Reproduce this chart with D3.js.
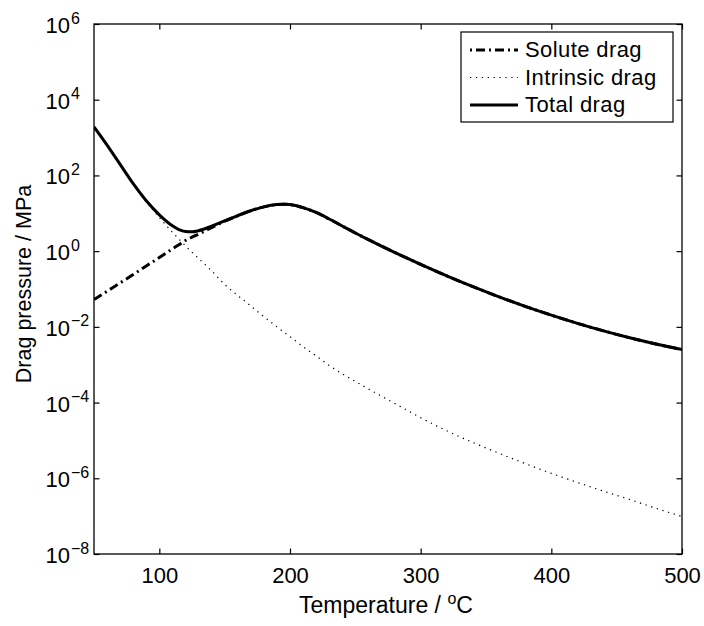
<!DOCTYPE html>
<html><head><meta charset="utf-8">
<script src="https://cdn.jsdelivr.net/npm/d3@7"></script>
<style>body{margin:0;background:#fff} text{font-family:"Liberation Sans",Arial,Helvetica,sans-serif;fill:#000}</style>
</head><body><svg id="c" width="704" height="626"></svg>
<script>
// Temperature (°C)
const temperature = [50,60,70,80,90,100,110,115,120,125,130,140,150,160,170,180,190,195,200,210,220,230,240,250,260,270,280,290,300,320,340,360,380,400,420,440,460,480,500];
// Drag pressure (MPa)
const totalDrag = [1905,631,195,60.3,21.4,9.12,4.68,3.72,3.31,3.24,3.47,4.57,6.31,8.71,11.7,14.8,17.0,17.4,17.0,14.1,10.5,7.08,4.62,3.02,2.02,1.36,0.929,0.640,0.446,0.222,0.115,0.0621,0.0348,0.0204,0.0124,0.00782,0.00514,0.00352,0.00251];
const intrinsicDrag = [1905,631,195,60.3,20.4,7.76,3.16,2.09,1.38,0.933,0.646,0.302,0.132,0.0676,0.0355,0.0186,0.0100,0.00741,0.00550,0.00302,0.00170,9.55e-4,5.75e-4,3.63e-4,2.29e-4,1.48e-4,9.55e-5,6.17e-5,3.98e-5,1.80e-5,8.81e-6,4.57e-6,2.45e-6,1.35e-6,7.76e-7,4.57e-7,2.75e-7,1.62e-7,9.77e-8];
const soluteDrag = [0.0525,0.0871,0.145,0.240,0.407,0.676,1.15,1.48,1.91,2.34,2.82,4.17,6.17,8.51,11.7,14.8,17.0,17.4,17.0,14.1,10.5,7.08,4.62,3.02,2.02,1.36,0.929,0.640,0.446,0.222,0.115,0.0621,0.0348,0.0204,0.0124,0.00782,0.00514,0.00352,0.00251];
const xTicks = [100,200,300,400,500];
const yTickExponents = [-8,-6,-4,-2,0,2,4,6];
const legendLabels = ["Solute drag","Intrinsic drag","Total drag"];

const L=94, R=682, T=24, B=554;
const svg = d3.select("#c");
const x = d3.scaleLinear().domain([50,500]).range([L,R]);
const y = d3.scaleLog().domain([1e-8,1e6]).range([B,T]);

const line = d3.line().x(d=>x(d[0])).y(d=>y(d[1])).curve(d3.curveMonotoneX);
const series = [
  {vals: soluteDrag, w:3, dash:"9,4,2,4", off:13},
  {vals: intrinsicDrag, w:1.2, dash:"1.3,4.6", off:0},
  {vals: totalDrag, w:3, dash:null, off:0}
];
const plot = svg.append("g");
plot.append("clipPath").attr("id","cp").append("rect").attr("x",L).attr("y",T).attr("width",R-L).attr("height",B-T);
series.forEach(s=>{
  plot.append("path").attr("clip-path","url(#cp)")
    .datum(temperature.map((t,i)=>[t,s.vals[i]]))
    .attr("d",line).attr("fill","none").attr("stroke","#000")
    .attr("stroke-width",s.w).attr("stroke-dasharray",s.dash)
    .attr("stroke-linejoin","round");
});

// frame
svg.append("rect").attr("x",L).attr("y",T).attr("width",R-L).attr("height",B-T)
  .attr("fill","none").attr("stroke","#000").attr("stroke-width",1.3);

const tickVals = yTickExponents.map(e=>Math.pow(10,e));
// bottom axis
const gx = svg.append("g").attr("transform",`translate(0,${B})`)
  .call(d3.axisBottom(x).tickValues(xTicks).tickSizeInner(-5.5).tickSizeOuter(0).tickPadding(13).tickFormat(d3.format("d")));
gx.select(".domain").remove();
gx.selectAll("text").style("font-size","22px").attr("font-family",null);
gx.selectAll("line").attr("stroke-width",1.2);
// top axis
const gxt = svg.append("g").attr("transform",`translate(0,${T})`)
  .call(d3.axisTop(x).tickValues(xTicks).tickSizeInner(-5.5).tickSizeOuter(0).tickFormat(""));
gxt.select(".domain").remove(); gxt.selectAll("line").attr("stroke-width",1.2);
// left axis
const gy = svg.append("g").attr("transform",`translate(${L},0)`)
  .call(d3.axisLeft(y).tickValues(tickVals).tickSizeInner(-5.5).tickSizeOuter(0).tickFormat(""));
gy.select(".domain").remove(); gy.selectAll("line").attr("stroke-width",1.2);
gy.selectAll(".tick").each(function(d){
  const g = d3.select(this);
  const e = Math.round(Math.log10(d));
  g.append("text").attr("x",-24).attr("y",8.5).attr("text-anchor","end").style("font-size","22px").text("10");
  g.append("text").attr("x",-23).attr("y",-1).attr("text-anchor","start").style("font-size","16px").text(e<0?"\u2212"+(-e):String(e));
});
// right axis
const gyr = svg.append("g").attr("transform",`translate(${R},0)`)
  .call(d3.axisRight(y).tickValues(tickVals).tickSizeInner(-5.5).tickSizeOuter(0).tickFormat(""));
gyr.select(".domain").remove(); gyr.selectAll("line").attr("stroke-width",1.2);

// axis labels
const xl = svg.append("text").attr("x",386).attr("y",613).attr("text-anchor","middle").style("font-size","23px");
xl.append("tspan").text("Temperature / ");
xl.append("tspan").attr("dy",-9).style("font-size","16px").text("o");
xl.append("tspan").attr("dy",9).text("C");
svg.append("text").attr("transform","translate(31,284) rotate(-90)").attr("text-anchor","middle")
  .style("font-size","21.5px").text("Drag pressure / MPa");

// legend
const lg = svg.append("g");
lg.append("rect").attr("x",461).attr("y",32).attr("width",212).attr("height",90)
  .attr("fill","#fff").attr("stroke","#000").attr("stroke-width",1.2);
const rowBase = [57,84.5,112];
legendLabels.forEach((lab,i)=>{
  const s = series[i];
  lg.append("line").attr("x1",470).attr("x2",518).attr("y1",rowBase[i]-7).attr("y2",rowBase[i]-7)
    .attr("stroke","#000").attr("stroke-width",s.w).attr("stroke-dasharray",s.dash).attr("stroke-dashoffset",s.off);
  lg.append("text").attr("x",525).attr("y",rowBase[i]).style("font-size","22px").style("letter-spacing","0.4px").text(lab);
});
</script></body></html>
